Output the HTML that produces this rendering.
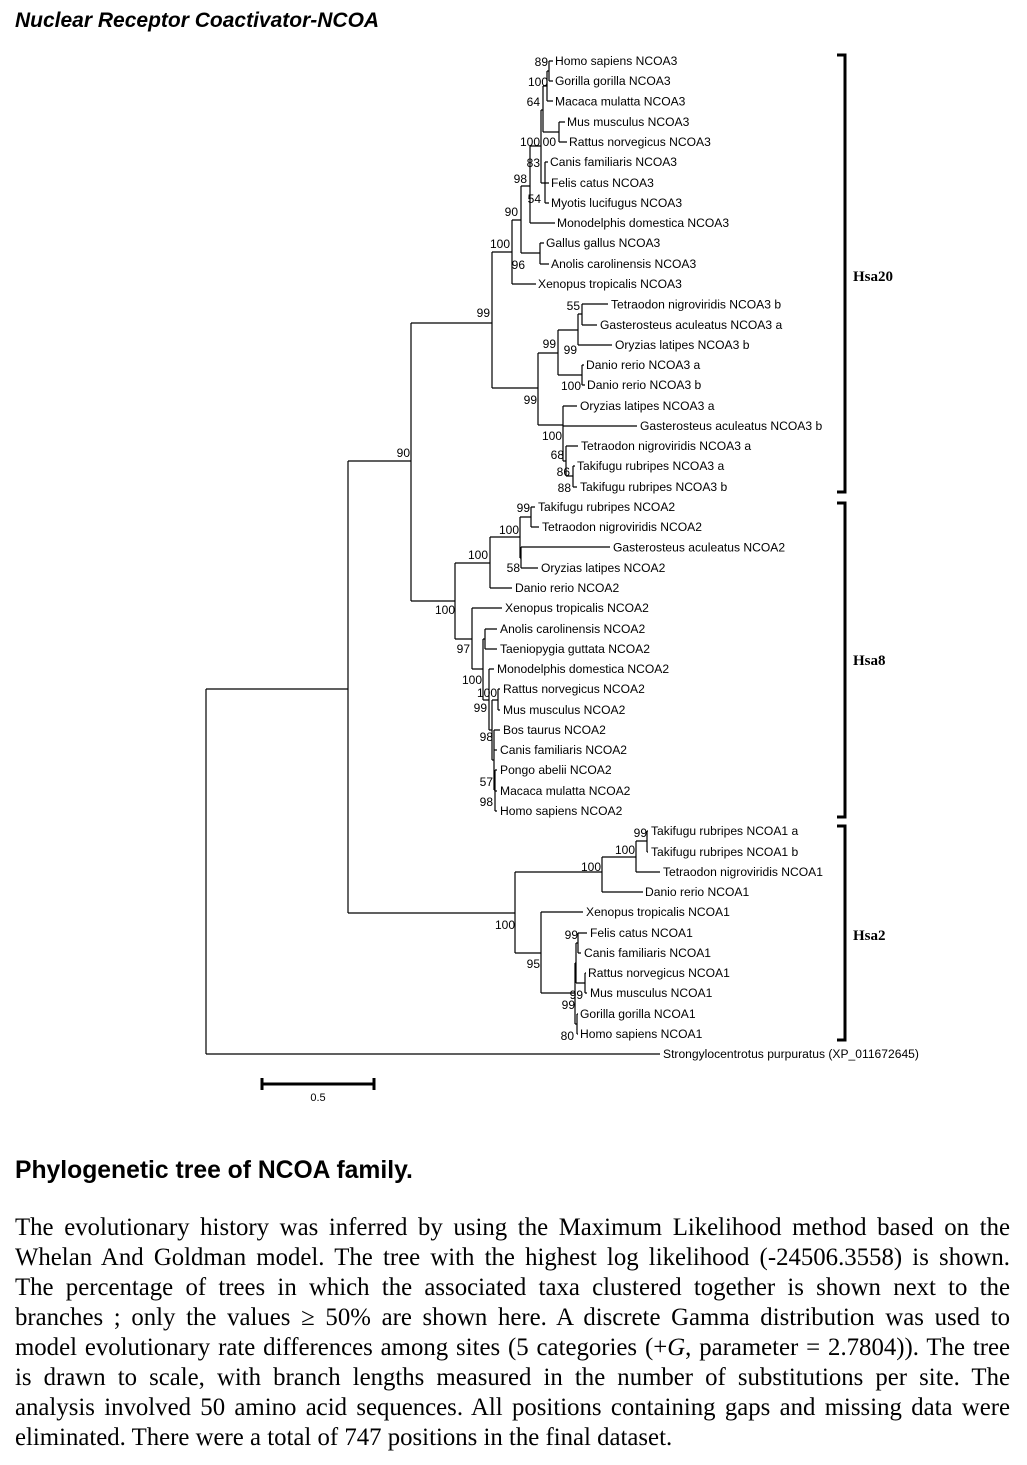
<!DOCTYPE html>
<html><head><meta charset="utf-8"><style>
html,body{margin:0;padding:0;background:#fff;}
body{width:1027px;height:1465px;position:relative;overflow:hidden;}
svg{position:absolute;left:0;top:0;}
.body{position:absolute;left:15px;top:1213px;width:995px;font-family:"Liberation Serif",serif;font-size:24.8px;line-height:30px;color:#000;}
.body div{text-align:justify;text-align-last:justify;white-space:nowrap;height:30px;}
.body div.last{text-align-last:left;}
</style></head><body>
<svg width="1027" height="1465" viewBox="0 0 1027 1465" font-family="Liberation Sans, Arial, sans-serif">
<text x="15" y="27" font-size="21" font-weight="bold" font-style="italic">Nuclear Receptor Coactivator-NCOA</text>
<g stroke="#000" stroke-width="1.2" fill="none">
<path d="M206 689V1054M206 689H348M206 1054H660
M348 461V913M348 461H411M348 913H515
M411 323V601M411 323H492M411 601H455
M492 252V388M492 252H512M492 388H538
M512 220V284M512 220H521M512 284H536
M521 186V253M521 186H530M521 253H540
M540 243V264M540 243H544M540 264H549
M530 146V223M530 146H541M530 223H555
M541 110V183M541 110H543M543 86V132M543 86H547M543 132H559
M547 71V101M547 71H549M547 101H553M549 61V81M549 61H553M549 81H553
M559 122V142M559 122H565M559 142H567
M541 183H545M545 162V203M545 162H548M545 183H549M545 203H549
M538 353V425M538 353H558M538 425H563
M558 330V375M558 330H578M558 375H582
M578 314V345M578 314H582M578 345H612
M582 304V325M582 304H608M582 325H597
M582 365V385M582 365H584M582 385H585
M563 406V461M563 406H577M563 426H637M563 461H566
M566 446V476M566 446H578M566 476H573
M573 466V487M573 466H575M573 487H577
M455 563V639M455 563H490M455 639H472
M490 537V588M490 537H520M490 588H512
M520 517V558M520 517H531M520 558H521
M531 507V527M531 507H535M531 527H539
M521 547V568M521 547H610M521 568H538
M472 608V669M472 608H502M472 669H483
M483 639V700M483 639H485M483 700H489
M485 629V649M485 629H497M485 649H497
M489 669V730M489 669H494M489 730H492
M492 700V760M492 700H498M492 760H494
M498 689V710M498 689H500M498 710H500
M494 730V790M494 730H500M494 750H497M494 790H495
M495 770V811M495 770H497M495 791H497M495 811H497
M515 872V953M515 872H602M515 953H541
M602 857V892M602 857H636M602 892H643
M636 841V872M636 841H647M636 872H660
M647 831V852M647 831H648M647 852H648
M541 912V993M541 912H583M541 993H575
M575 963V1024M575 963H576M575 1024H577
M576 943V983M576 943H578M576 983H585
M578 933V953M578 933H587M578 953H581
M585 973V993M585 973H586M585 993H587
M577 1014V1034M577 1014H578M577 1034H578"/>
</g>
<g stroke="#000" stroke-width="3" fill="none">
<path d="M837 55H845V492H837M837 503H845V817H837M837 826H845V1040H837"/>
<path d="M262 1084H374M262 1078V1090M374 1078V1090"/>
</g>
<g font-family="Liberation Serif, serif" font-weight="bold" font-size="15">
<text x="853" y="281">Hsa20</text>
<text x="853" y="665">Hsa8</text>
<text x="853" y="940">Hsa2</text>
</g>
<text x="318" y="1101" font-size="11" text-anchor="middle">0.5</text>
<g font-size="12.1">
<text x="555" y="65">Homo sapiens NCOA3</text>
<text x="555" y="85">Gorilla gorilla NCOA3</text>
<text x="555" y="105.5">Macaca mulatta NCOA3</text>
<text x="567" y="126">Mus musculus NCOA3</text>
<text x="569" y="146">Rattus norvegicus NCOA3</text>
<text x="550" y="166">Canis familiaris NCOA3</text>
<text x="551" y="187">Felis catus NCOA3</text>
<text x="551" y="207">Myotis lucifugus NCOA3</text>
<text x="557" y="227">Monodelphis domestica NCOA3</text>
<text x="546" y="247">Gallus gallus NCOA3</text>
<text x="551" y="268">Anolis carolinensis NCOA3</text>
<text x="538" y="288">Xenopus tropicalis NCOA3</text>
<text x="611" y="308.5">Tetraodon nigroviridis NCOA3 b</text>
<text x="600" y="329">Gasterosteus aculeatus NCOA3 a</text>
<text x="615" y="349">Oryzias latipes NCOA3 b</text>
<text x="586" y="369">Danio rerio NCOA3 a</text>
<text x="587" y="389">Danio rerio NCOA3 b</text>
<text x="580" y="410">Oryzias latipes NCOA3 a</text>
<text x="640" y="430">Gasterosteus aculeatus NCOA3 b</text>
<text x="581" y="450">Tetraodon nigroviridis NCOA3 a</text>
<text x="577" y="470">Takifugu rubripes NCOA3 a</text>
<text x="580" y="491">Takifugu rubripes NCOA3 b</text>
<text x="538" y="511">Takifugu rubripes NCOA2</text>
<text x="542" y="531">Tetraodon nigroviridis NCOA2</text>
<text x="613" y="551.5">Gasterosteus aculeatus NCOA2</text>
<text x="541" y="572">Oryzias latipes NCOA2</text>
<text x="515" y="592">Danio rerio NCOA2</text>
<text x="505" y="612">Xenopus tropicalis NCOA2</text>
<text x="500" y="633">Anolis carolinensis NCOA2</text>
<text x="500" y="653">Taeniopygia guttata NCOA2</text>
<text x="497" y="673">Monodelphis domestica NCOA2</text>
<text x="503" y="693">Rattus norvegicus NCOA2</text>
<text x="503" y="714">Mus musculus NCOA2</text>
<text x="503" y="734">Bos taurus NCOA2</text>
<text x="500" y="754">Canis familiaris NCOA2</text>
<text x="500" y="774">Pongo abelii NCOA2</text>
<text x="500" y="795">Macaca mulatta NCOA2</text>
<text x="500" y="815">Homo sapiens NCOA2</text>
<text x="651" y="835">Takifugu rubripes NCOA1 a</text>
<text x="651" y="856">Takifugu rubripes NCOA1 b</text>
<text x="663" y="876">Tetraodon nigroviridis NCOA1</text>
<text x="645" y="896">Danio rerio NCOA1</text>
<text x="586" y="916">Xenopus tropicalis NCOA1</text>
<text x="590" y="937">Felis catus NCOA1</text>
<text x="584" y="957">Canis familiaris NCOA1</text>
<text x="588" y="977">Rattus norvegicus NCOA1</text>
<text x="590" y="997">Mus musculus NCOA1</text>
<text x="580" y="1018">Gorilla gorilla NCOA1</text>
<text x="580" y="1038">Homo sapiens NCOA1</text>
<text x="663" y="1058">Strongylocentrotus purpuratus (XP_011672645)</text>
</g>
<g font-size="12" text-anchor="end">
<text x="548" y="66">89</text><text x="548" y="86">100</text><text x="540" y="106">64</text>
<text x="540" y="146">100</text><text x="556" y="146">00</text><text x="540" y="167">83</text>
<text x="527" y="183">98</text><text x="541" y="203">54</text><text x="518" y="216">90</text>
<text x="510" y="248">100</text><text x="525" y="269">96</text><text x="490" y="317">99</text>
<text x="580" y="310">55</text><text x="577" y="354">99</text><text x="556" y="348">99</text>
<text x="581" y="390">100</text><text x="537" y="404">99</text><text x="562" y="440">100</text>
<text x="564" y="459">68</text><text x="570" y="476">86</text><text x="571" y="492">88</text>
<text x="410" y="457">90</text><text x="530" y="512">99</text><text x="519" y="534">100</text>
<text x="488" y="559">100</text><text x="520" y="572">58</text><text x="455" y="614">100</text>
<text x="470" y="653">97</text><text x="482" y="684">100</text><text x="497" y="697">100</text>
<text x="487" y="712">99</text><text x="493" y="741">98</text><text x="493" y="786">57</text>
<text x="493" y="806">98</text><text x="647" y="837">99</text><text x="635" y="854">100</text>
<text x="601" y="871">100</text><text x="515" y="929">100</text><text x="540" y="968">95</text>
<text x="578" y="939">99</text><text x="583" y="999">99</text><text x="575" y="1009">99</text>
<text x="574" y="1040">80</text>
</g>
<text x="15" y="1178" font-size="24.7" font-weight="bold">Phylogenetic tree of NCOA family.</text>
</svg>
<div class="body">
<div>The evolutionary history was inferred by using the Maximum Likelihood method based on the</div>
<div>Whelan And Goldman model. The tree with the highest log likelihood (-24506.3558) is shown.</div>
<div>The percentage of trees in which the associated taxa clustered together is shown next to the</div>
<div>branches ; only the values ≥ 50% are shown here. A discrete Gamma distribution was used to</div>
<div>model evolutionary rate differences among sites (5 categories (+<i>G</i>, parameter = 2.7804)). The tree</div>
<div>is drawn to scale, with branch lengths measured in the number of substitutions per site. The</div>
<div>analysis involved 50 amino acid sequences. All positions containing gaps and missing data were</div>
<div class="last">eliminated. There were a total of 747 positions in the final dataset.</div>
</div>
</body></html>
